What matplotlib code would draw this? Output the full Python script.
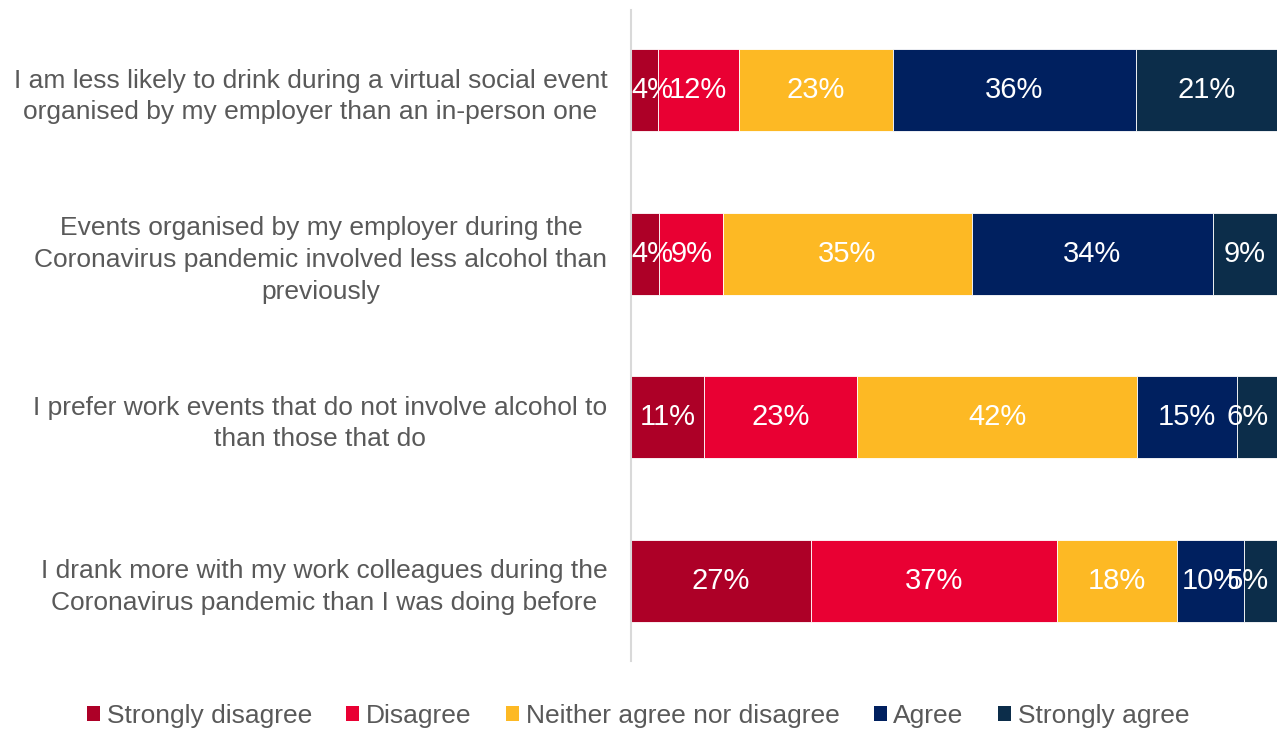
import matplotlib
matplotlib.use("Agg")
import matplotlib.pyplot as plt
from matplotlib.patches import Patch
import numpy as np

plt.rcParams['font.family'] = ['Liberation Sans', 'DejaVu Sans']

statements = [
    "I am less likely to drink during a virtual social event\norganised by my employer than an in-person one",
    "Events organised by my employer during the\nCoronavirus pandemic involved less alcohol than\npreviously",
    "I prefer work events that do not involve alcohol to\nthan those that do",
    "I drank more with my work colleagues during the\nCoronavirus pandemic than I was doing before",
]
series_names = ["Strongly disagree", "Disagree", "Neither agree nor disagree", "Agree", "Strongly agree"]
strongly_disagree = [4, 4, 11, 27]
disagree = [12, 9, 23, 37]
neither = [23, 35, 42, 18]
agree = [36, 34, 15, 10]
strongly_agree = [21, 9, 6, 5]

colors = ["#AD0027", "#E90033", "#FDB924", "#00205F", "#0C2D4A"]
text_grey = "#595959"

values = np.array([strongly_disagree, disagree, neither, agree, strongly_agree], dtype=float)
totals = values.sum(axis=0)
shares = values / totals * 100

fig = plt.figure(figsize=(12.77, 7.31), dpi=100)
ax = fig.add_axes([631/1277, 1-661/731, 1-631/1277, 651/731])
ax.set_xlim(0, 100)
ax.set_ylim(3.49, -0.49)

y = np.arange(len(statements))
left = np.zeros(len(statements))
labels = []
for i, name in enumerate(series_names):
    ax.barh(y, shares[i], left=left, height=0.5, color=colors[i],
            edgecolor="#FFFFFF", linewidth=0.6, label=name)
    for j in range(len(statements)):
        t = ax.text(left[j] + shares[i][j] / 2, y[j], f"{int(values[i][j])}%",
                    ha="center", va="center", color="white", fontsize=21)
        labels.append(t)
    left += shares[i]

# keep data labels inside the plot area (like the original chart)
fig.canvas.draw()
renderer = fig.canvas.get_renderer()
inv = ax.transData.inverted()
margin_px = 8
for t in labels:
    bb = t.get_window_extent(renderer)
    half = (inv.transform((bb.x1, 0))[0] - inv.transform((bb.x0, 0))[0]) / 2
    mpx = inv.transform((margin_px, 0))[0] - inv.transform((0, 0))[0]
    x, yy = t.get_position()
    x = min(x, 100 - half - mpx)
    x = max(x, half)
    t.set_position((x, yy))

ax.set_yticks(y)
ax.set_yticklabels(statements, fontsize=19, color=text_grey, ha="right",
                   multialignment="center", linespacing=1.4)
ax.tick_params(axis="y", length=0, pad=17)
ax.set_xticks([])
for s in ["top", "right", "bottom"]:
    ax.spines[s].set_visible(False)
ax.spines["left"].set_color("#D9D9D9")
ax.spines["left"].set_linewidth(1.5)

handles = [Patch(facecolor=c, edgecolor="none") for c in colors]
fig.legend(handles, series_names, loc="center", bbox_to_anchor=(0.4996, 1-716/731),
           ncol=5, frameon=False, fontsize=19, labelcolor=text_grey,
           handlelength=0.5, handleheight=0.5, handletextpad=0.25, columnspacing=1.3)

fig.savefig("out.png", dpi=100)
